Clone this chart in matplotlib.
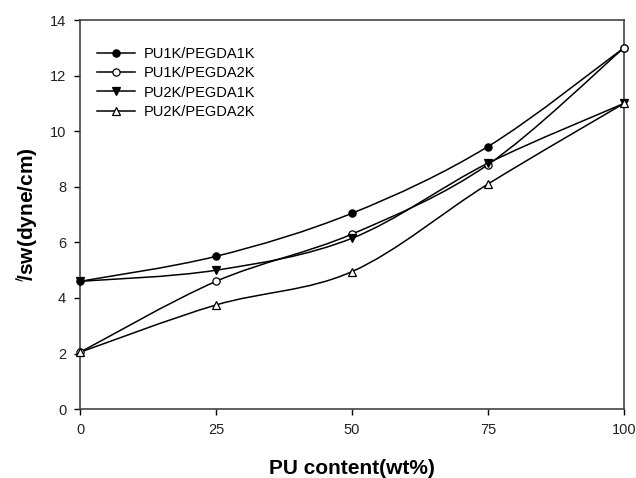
import numpy as np
import matplotlib.pyplot as plt
from matplotlib.path import Path
from matplotlib.patches import PathPatch
from matplotlib.lines import Line2D

plt.rcParams['font.family'] = ['Liberation Sans', 'DejaVu Sans']

pu_content = [0, 25, 50, 75, 100]
pu1k_pegda1k = [4.6, 5.5, 7.05, 9.45, 13.0]
pu1k_pegda2k = [2.05, 4.6, 6.3, 8.8, 13.0]
pu2k_pegda1k = [4.6, 5.0, 6.15, 8.85, 11.0]
pu2k_pegda2k = [2.05, 3.75, 4.95, 8.1, 11.0]

series = [
    ('PU1K/PEGDA1K', pu1k_pegda1k, 'o', 'black'),
    ('PU1K/PEGDA2K', pu1k_pegda2k, 'o', 'white'),
    ('PU2K/PEGDA1K', pu2k_pegda1k, 'v', 'black'),
    ('PU2K/PEGDA2K', pu2k_pegda2k, '^', 'white'),
]


def smooth_path(x, y, k=1/6):
    # bezier segments through the points (catmull-rom style tangents)
    x = np.asarray(x, float)
    y = np.asarray(y, float)
    n = len(x)
    verts = [(x[0], y[0])]
    codes = [Path.MOVETO]
    for i in range(n - 1):
        i0 = max(i - 1, 0)
        i3 = min(i + 2, n - 1)
        c1 = (x[i] + (x[i + 1] - x[i0]) * k, y[i] + (y[i + 1] - y[i0]) * k)
        c2 = (x[i + 1] - (x[i3] - x[i]) * k, y[i + 1] - (y[i3] - y[i]) * k)
        verts += [c1, c2, (x[i + 1], y[i + 1])]
        codes += [Path.CURVE4] * 3
    return Path(verts, codes)


fig = plt.figure(figsize=(6.36, 4.78), dpi=100)
ax = fig.add_axes([0.126, 0.144, 0.855, 0.814])

handles = []
for name, vals, mk, fc in series:
    ax.add_patch(PathPatch(smooth_path(pu_content, vals), facecolor='none',
                           edgecolor='black', lw=1.1, zorder=2))
    ax.plot(pu_content, vals, linestyle='none', marker=mk, markersize=5.2,
            markerfacecolor=fc, markeredgecolor='black', markeredgewidth=0.9,
            zorder=3, clip_on=False)
    handles.append(Line2D([], [], color='black', lw=1.1, marker=mk, markersize=5.2,
                          markerfacecolor=fc, markeredgecolor='black',
                          markeredgewidth=0.9, label=name))

ax.set_xlim(0, 100)
ax.set_ylim(0, 14)
ax.set_xticks(pu_content)
ax.set_yticks(range(0, 15, 2))
ax.tick_params(direction='out', length=4, width=1, labelsize=10.5,
               labelcolor='#222222', top=False, right=False, pad=6)
for sp in ax.spines.values():
    sp.set_linewidth(1.2)
    sp.set_color('#444444')

ax.set_xlabel('PU content(wt%)', fontsize=15, fontweight='bold', labelpad=16)
ax.set_ylabel(r'$^{\prime}\!$/sw(dyne/cm)', fontsize=15, fontweight='bold', labelpad=7)

ax.legend(handles=handles, loc='upper left', bbox_to_anchor=(0.02, 0.945),
          frameon=False, fontsize=10.5, handlelength=2.6, handletextpad=0.6,
          labelspacing=0.35, borderaxespad=0)

fig.savefig('out.png', dpi=100)
